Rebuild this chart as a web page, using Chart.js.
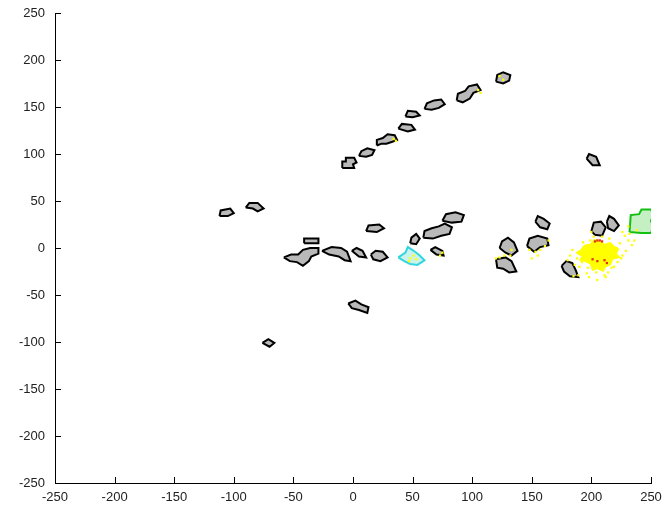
<!DOCTYPE html>
<html>
<head>
<meta charset="utf-8">
<script src="https://cdn.jsdelivr.net/npm/chart.js@4/dist/chart.umd.min.js"></script>
<style>
html,body{margin:0;padding:0;background:#fff;}
canvas{display:block;}
</style>
</head>
<body>
<canvas id="c" width="663" height="514"></canvas>
<script>
// ---- data (all in data units) ----
const tickValues = [-250,-200,-150,-100,-50,0,50,100,150,200,250];

// gray island outlines: flat lists x1,y1,x2,y2,...
const islandOutlines = [
  [-9,85, -9,92, -6,92, -6,96, 1,96, 3,91, 0,89, 1,85],
  [5,98, 7,103, 12,106, 18,104, 16,99, 11,97],
  [20,109, 20,115, 25,117, 29,121, 35,120, 37,115, 33,113, 28,111, 24,111],
  [38,127, 41,132, 49,131, 52,126, 46,124],
  [44,140, 46,146, 53,145, 56,141, 50,139],
  [60,148, 62,154, 68,157, 74,158, 77,153, 72,149, 66,147],
  [87,157, 88,164, 94,167, 97,172, 104,174, 107,168, 101,165, 98,159, 92,155],
  [120,177, 121,184, 126,187, 132,184, 131,178, 126,175],
  [196,95, 198,100, 204,97, 207,88, 201,88],
  [-112,34, -111,40, -103,42, -100,37, -105,34],
  [-90,43, -87,48, -80,48, -75,42, -80,39, -84,42],
  [-41,5, -41,10, -29,10, -29,5],
  [-58,-10, -52,-7, -46,-7, -42,-2, -36,0, -29,0, -29,-6, -35,-9, -37,-14, -42,-19, -47,-15, -53,-14],
  [-26,-3, -18,1, -10,0, -5,-4, -2,-14, -7,-13, -12,-9, -20,-7],
  [-1,-3, 3,0, 8,-3, 11,-10, 5,-9],
  [15,-7, 19,-3, 25,-4, 29,-10, 23,-14, 17,-12],
  [11,18, 13,24, 22,25, 26,21, 20,17],
  [-4,-59, 2,-56, 7,-60, 13,-63, 12,-69, 5,-66, -1,-64],
  [-76,-101, -71,-97, -66,-101, -70,-105],
  [48,5, 49,11, 53,15, 56,10, 53,4],
  [59,11, 60,18, 66,21, 72,23, 77,26, 83,22, 81,15, 74,13, 67,10],
  [75,29, 78,36, 86,38, 93,35, 91,28, 83,27],
  [65,-2, 69,1, 75,-3, 76,-8, 70,-7],
  [153,28, 155,34, 160,31, 165,26, 163,20, 157,22],
  [123,0, 125,7, 130,11, 135,6, 138,-3, 133,-8, 128,-5],
  [120,-12, 128,-10, 133,-14, 137,-25, 131,-26, 126,-22, 121,-21],
  [146,2, 148,10, 155,13, 163,10, 164,3, 157,1, 152,-4],
  [175,-19, 179,-14, 184,-16, 187,-24, 189,-31, 182,-30, 177,-25],
  [200,18, 202,27, 208,28, 212,22, 209,13, 203,14],
  [213,28, 215,34, 219,31, 223,24, 219,18, 214,21]
];

const cyanOutline = [38,-10, 44,-5, 46,1, 51,-3, 56,-8, 60,-13, 54,-18, 48,-17, 43,-14];
const greenOutline = [232,17, 233,35, 240,36, 242,41, 250,41, 252,35, 250,29, 252,22, 250,16, 242,16];
const yellowPatch = [187,-5, 191,-2, 194,3, 199,4, 202,9, 207,8, 211,4, 216,6, 219,2, 223,-1, 221,-6, 224,-10, 218,-12, 216,-18, 212,-20, 210,-25, 205,-22, 201,-24, 199,-17, 194,-14, 190,-13, 192,-9];

const yellowX = [34,36,105,107,123,126,48,47,51,53,75,73,127,132,133,123,120,148,153,157,161,155,150,164,185,189,200,226,228,231,234,224,188,192,197,199,194,217,222,226,211,204,186,221,182,205,232,238,231,184,190,196,214,219,225,229,209,202,215,193,198,212,236,180];
const yellowY = [116,114,168,165,183,179,-11,-14,-8,-12,-5,-8,-8,-8,-2,-10,-11,-2,-4,-2,2,-8,-11,8,-30,-29,17,17,13,8,3,5,-11,-15,-21,8,0,-21,-15,-8,-29,-26,-18,0,-8,-34,15,19,23,-2,-20,-27,-26,-20,-11,-3,12,12,10,6,-31,-31,8,-13];

const redX = [203,205,207,209,201,205,213,211];
const redY = [7,8,8,7,-12,-14,-16,-13];

// ---- helpers ----
function toPoints(flat){
  const pts=[];
  for(let i=0;i<flat.length;i+=2) pts.push({x:flat[i], y:flat[i+1]});
  pts.push({x:flat[0], y:flat[1]});
  return pts;
}
function polyDataset(flat, border, fillCol, order, bw){
  return {data:toPoints(flat), showLine:true, tension:0, pointRadius:0, pointHoverRadius:0,
    borderColor:border, borderWidth:bw, polyFill:fillCol, fill:false, order:order};
}

const datasets = [];
datasets.push({data:redX.map((x,i)=>({x:x,y:redY[i]})), pointStyle:'rect', pointRadius:1.6,
  backgroundColor:'#e03020', borderWidth:0, showLine:false, order:0});
datasets.push({data:yellowX.map((x,i)=>({x:x,y:yellowY[i]})), pointStyle:'rect', pointRadius:1.6,
  backgroundColor:'#ffff00', borderWidth:0, showLine:false, order:1});
datasets.push(polyDataset(cyanOutline, '#33d6e0', '#c9f3ec', 2, 2));
datasets.push(polyDataset(greenOutline, '#11c011', '#c4f0c4', 2, 2));
islandOutlines.forEach(o=>datasets.push(polyDataset(o, '#000000', '#b9b9b9', 3, 2)));
datasets.push(polyDataset(yellowPatch, '#ffff00', '#ffff00', 4, 1));

const polyFillPlugin = {
  id:'polyFill',
  beforeDatasetDraw(chart, args){
    const ds = chart.data.datasets[args.index];
    if(!ds.polyFill) return;
    const pts = args.meta.data;
    const ctx = chart.ctx, a = chart.chartArea;
    ctx.save();
    ctx.beginPath(); ctx.rect(a.left, a.top, a.right-a.left, a.bottom-a.top); ctx.clip();
    ctx.beginPath();
    pts.forEach((p,j)=>{ if(j===0) ctx.moveTo(p.x,p.y); else ctx.lineTo(p.x,p.y); });
    ctx.closePath();
    ctx.fillStyle = ds.polyFill;
    ctx.fill();
    ctx.restore();
  }
};

const inwardTicks = {
  id:'inwardTicks',
  afterDraw(chart){
    const ctx = chart.ctx, xs = chart.scales.x, ys = chart.scales.y, a = chart.chartArea;
    ctx.save();
    ctx.strokeStyle = '#000'; ctx.lineWidth = 1;
    ctx.beginPath();
    tickValues.forEach(v=>{
      const px = Math.round(xs.getPixelForValue(v))+0.5;
      ctx.moveTo(px, a.bottom); ctx.lineTo(px, a.bottom-6);
      const py = Math.round(ys.getPixelForValue(v))+0.5;
      ctx.moveTo(a.left, py); ctx.lineTo(a.left+6, py);
    });
    ctx.stroke();
    ctx.restore();
  }
};

function zeroPad(s){ s.paddingLeft = 0; s.paddingRight = 0; s.paddingTop = 0; s.paddingBottom = 0; }

const tickFont = {family:'Liberation Sans', size:13};

new Chart(document.getElementById('c'), {
  type:'scatter',
  data:{datasets:datasets},
  options:{
    responsive:false, animation:false,
    layout:{padding:{top:13, right:12, left:0, bottom:0}},
    plugins:{legend:{display:false}, tooltip:{enabled:false}},
    scales:{
      x:{type:'linear', min:-250, max:250,
        afterBuildTicks(s){ s.ticks = tickValues.map(v=>({value:v})); },
        afterFit(s){ s.height = 31; zeroPad(s); },
        ticks:{color:'#222', font:tickFont, padding:7, maxRotation:0, autoSkip:false},
        grid:{drawOnChartArea:false, drawTicks:false},
        border:{display:true, color:'#000', width:1}},
      y:{type:'linear', min:-250, max:250,
        afterBuildTicks(s){ s.ticks = tickValues.map(v=>({value:v})); },
        afterFit(s){ s.width = 55; zeroPad(s); },
        ticks:{color:'#222', font:tickFont, padding:10, autoSkip:false},
        grid:{drawOnChartArea:false, drawTicks:false},
        border:{display:true, color:'#000', width:1}}
    }
  },
  plugins:[polyFillPlugin, inwardTicks]
});
</script>
</body>
</html>
